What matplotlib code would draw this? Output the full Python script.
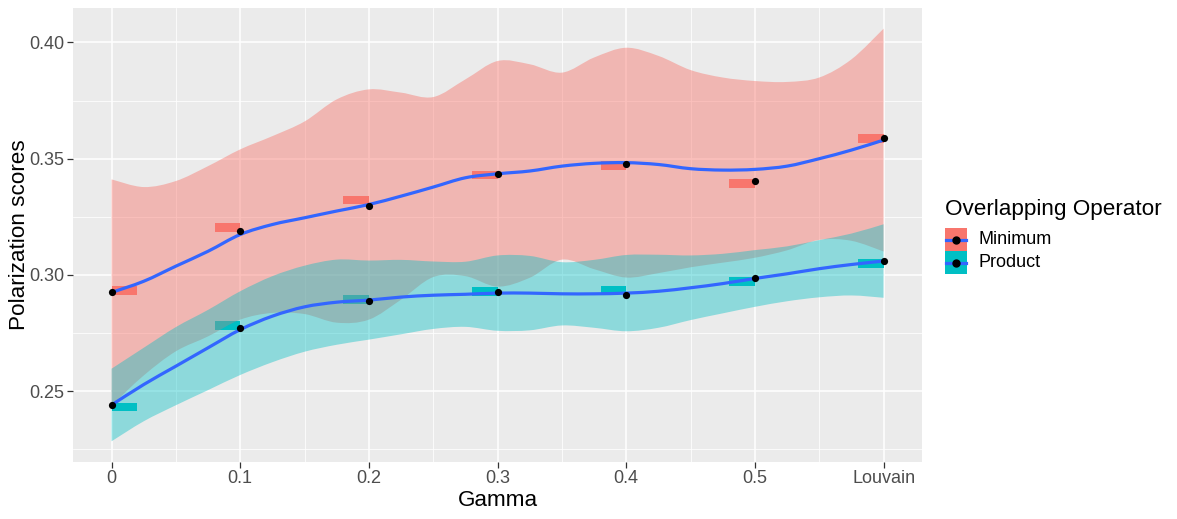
import matplotlib
matplotlib.use("Agg")
import numpy as np
import matplotlib.pyplot as plt
from matplotlib.patches import PathPatch, Rectangle
from matplotlib.lines import Line2D
from matplotlib.path import Path

plt.rcParams['font.family'] = ['Liberation Sans', 'DejaVu Sans']

# observed values per gamma (Louvain plotted at 0.6)
gamma = [0, 0.1, 0.2, 0.3, 0.4, 0.5, 0.6]
tick_labels = ['0', '0.1', '0.2', '0.3', '0.4', '0.5', 'Louvain']

min_points = [0.2927, 0.3190, 0.3296, 0.3435, 0.3479, 0.3405, 0.3590]
prod_points = [0.2441, 0.2773, 0.2888, 0.2927, 0.2914, 0.2985, 0.3058]

min_bars = [0.2933, 0.3205, 0.3323, 0.3430, 0.3470, 0.3394, 0.3588]
prod_bars = [0.2433, 0.2784, 0.2895, 0.2930, 0.2935, 0.2972, 0.3050]

# smoothed curves + confidence bands
sx = [0, 0.025, 0.05, 0.075, 0.1, 0.125, 0.15, 0.175, 0.2, 0.225, 0.25, 0.275, 0.3,
      0.325, 0.35, 0.375, 0.4, 0.425, 0.45, 0.475, 0.5, 0.525, 0.55, 0.575, 0.6]

min_fit = [0.2925, 0.2973, 0.3038, 0.3102, 0.3174, 0.3217, 0.3246, 0.3275, 0.3303, 0.3339,
           0.3378, 0.3418, 0.3435, 0.3447, 0.3468, 0.3480, 0.3483, 0.3475, 0.3457, 0.3451,
           0.3454, 0.3468, 0.3500, 0.3537, 0.3580]
min_hi = [0.3411, 0.3378, 0.3404, 0.3468, 0.3540, 0.3597, 0.3660, 0.3755, 0.3798, 0.3784,
          0.3765, 0.3841, 0.3920, 0.3906, 0.3870, 0.3935, 0.3977, 0.3942, 0.3881, 0.3849,
          0.3834, 0.3830, 0.3849, 0.3927, 0.4059]
min_lo = [0.2439, 0.2568, 0.2672, 0.2736, 0.2808, 0.2837, 0.2832, 0.2795, 0.2808, 0.2894,
          0.2991, 0.2995, 0.2950, 0.2988, 0.3066, 0.3025, 0.2989, 0.3008, 0.3033, 0.3053,
          0.3074, 0.3106, 0.3151, 0.3147, 0.3101]

prod_fit = [0.2441, 0.2529, 0.2608, 0.2687, 0.2765, 0.2823, 0.2863, 0.2883, 0.2892, 0.2905,
            0.2913, 0.2917, 0.2922, 0.2922, 0.2919, 0.2919, 0.2922, 0.2930, 0.2945, 0.2963,
            0.2985, 0.3005, 0.3027, 0.3045, 0.3060]
prod_hi = [0.2597, 0.2687, 0.2776, 0.2850, 0.2930, 0.2995, 0.3040, 0.3066, 0.3062, 0.3065,
           0.3058, 0.3057, 0.3084, 0.3082, 0.3055, 0.3065, 0.3086, 0.3087, 0.3084, 0.3091,
           0.3107, 0.3123, 0.3150, 0.3178, 0.3218]
prod_lo = [0.2285, 0.2371, 0.2440, 0.2505, 0.2570, 0.2625, 0.2670, 0.2700, 0.2722, 0.2745,
           0.2768, 0.2777, 0.2760, 0.2762, 0.2783, 0.2773, 0.2758, 0.2773, 0.2806, 0.2835,
           0.2863, 0.2887, 0.2904, 0.2912, 0.2902]

groups = ['Minimum', 'Product']

RED = '#F8766D'
TEAL = '#00BFC4'
BLUE = '#3366FF'
W, H = 1177, 519


def bezier_through(xs, ys):
    # catmull-rom -> cubic bezier so the curve is drawn smoothly through the read points
    p = np.column_stack([xs, ys]).astype(float)
    n = len(p)
    verts = [p[0]]
    codes = [Path.MOVETO]
    for i in range(n - 1):
        p0 = p[i - 1] if i > 0 else p[i]
        p1, p2 = p[i], p[i + 1]
        p3 = p[i + 2] if i + 2 < n else p[i + 1]
        verts += [p1 + (p2 - p0) / 6, p2 - (p3 - p1) / 6, p2]
        codes += [Path.CURVE4] * 3
    return verts, codes


def smooth_line(ax, xs, ys, **kw):
    v, c = bezier_through(xs, ys)
    ax.add_patch(PathPatch(Path(v, c), fill=False, **kw))


def smooth_band(ax, xs, lo, hi, **kw):
    vu, cu = bezier_through(xs, hi)
    vl, cl = bezier_through(xs[::-1], lo[::-1])
    cl[0] = Path.LINETO
    verts = vu + vl + [vu[0]]
    codes = cu + cl + [Path.CLOSEPOLY]
    ax.add_patch(PathPatch(Path(verts, codes), linewidth=0, **kw))


fig = plt.figure(figsize=(W / 100, H / 100), dpi=100)
ax = fig.add_axes([0.062, 0.110, 0.7215, 0.8745])
ax.set_facecolor('#EBEBEB')

# bars (dodged to the left of each gamma, except at 0)
bw = 0.02
bh = 0.0037
lefts = [g - bw if g > 0 else g for g in gamma]
ax.bar(lefts, [bh] * 7, width=bw, bottom=[v - bh / 2 for v in min_bars],
       align='edge', color=RED, linewidth=0, zorder=2)
ax.bar(lefts, [bh] * 7, width=bw, bottom=[v - bh / 2 for v in prod_bars],
       align='edge', color=TEAL, linewidth=0, zorder=2)

# smooth ribbons + lines
smooth_band(ax, sx, min_lo, min_hi, facecolor=RED, alpha=0.45, zorder=3)
smooth_line(ax, sx, min_fit, edgecolor=BLUE, lw=2.3, zorder=4)
smooth_band(ax, sx, prod_lo, prod_hi, facecolor=TEAL, alpha=0.4, zorder=5)
smooth_line(ax, sx, prod_fit, edgecolor=BLUE, lw=2.3, zorder=6)

ax.scatter(gamma, min_points, s=27, color='black', zorder=7, linewidths=0)
ax.scatter(gamma, prod_points, s=27, color='black', zorder=7, linewidths=0)

# scales
ax.set_xlim(-0.03, 0.63)
lo = min(min(min_lo), min(prod_lo))
hi = max(max(min_hi), max(prod_hi))
pad = (hi - lo) * 0.05
ax.set_ylim(lo - pad, hi + pad)

ax.set_xticks(gamma)
ax.set_xticklabels(tick_labels)
ax.set_xticks([0.05, 0.15, 0.25, 0.35, 0.45, 0.55], minor=True)
ax.set_yticks([0.25, 0.30, 0.35, 0.40])
ax.set_yticklabels(['0.25', '0.30', '0.35', '0.40'])
ax.set_yticks([0.225, 0.275, 0.325, 0.375], minor=True)

ax.grid(which='major', color='white', lw=1.1, zorder=0)
ax.grid(which='minor', color='white', lw=0.55, zorder=0)
ax.set_axisbelow(True)
for s in ax.spines.values():
    s.set_visible(False)

ax.tick_params(which='major', length=4, width=0.9, color='#333333',
               labelsize=13, labelcolor='#4D4D4D', pad=2)
ax.tick_params(which='minor', length=0)

ax.set_xlabel('Gamma', fontsize=16.2, labelpad=2)
ax.set_ylabel('Polarization scores', fontsize=16.2, labelpad=0)

# legend drawn by hand, ggplot style (pixel positions -> figure fraction)
def fx(px):
    return px / W


def fy(py):
    return 1 - py / H


fig.text(fx(945), fy(215), 'Overlapping Operator', fontsize=16.2,
         ha='left', va='baseline')
key_top = 228
key_h = 23
for i, (name, col) in enumerate(zip(groups, [RED, TEAL])):
    top = key_top + i * key_h
    fig.add_artist(Rectangle((fx(945), fy(top + key_h)), 22 / W, key_h / H,
                             transform=fig.transFigure, facecolor=col,
                             edgecolor='none'))
    cy = fy(top + key_h / 2)
    fig.add_artist(Line2D([fx(946), fx(966)], [cy, cy], transform=fig.transFigure,
                          color=BLUE, lw=2.3))
    fig.add_artist(Line2D([fx(956)], [cy], transform=fig.transFigure,
                          marker='o', markersize=5, color='black', lw=0))
    fig.text(fx(979), cy, name, fontsize=13, ha='left', va='center')

fig.savefig('out.png', dpi=100)
